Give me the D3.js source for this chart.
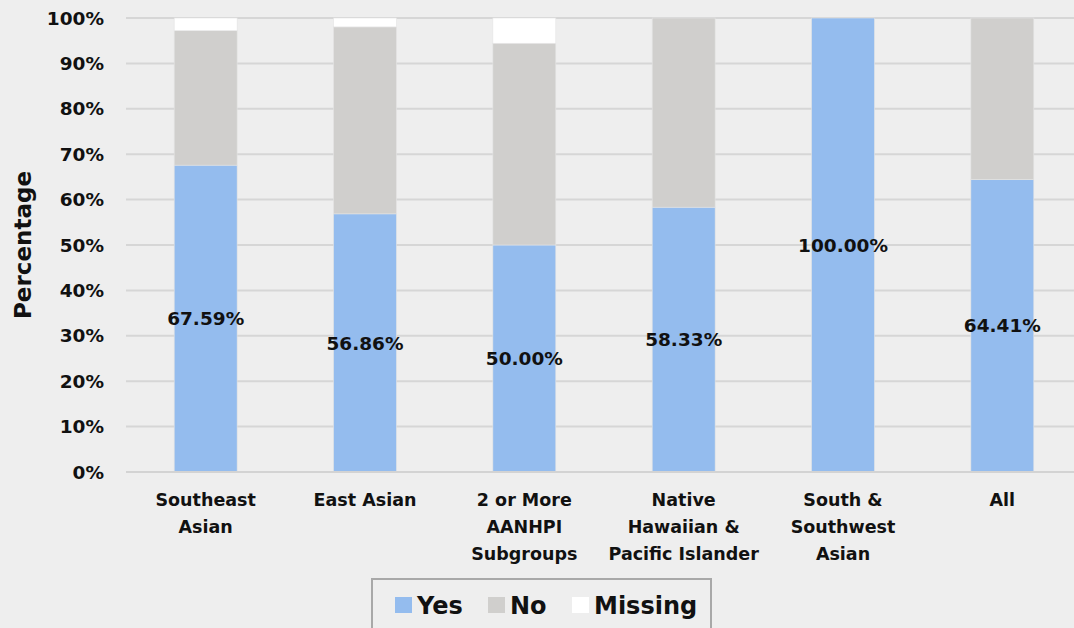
<!DOCTYPE html>
<html><head><meta charset="utf-8">
<script src="https://cdn.jsdelivr.net/npm/d3@7"></script>
<style>html,body{margin:0;padding:0;background:#eeeeee;}svg{display:block;}</style>
</head><body>
<svg id="c" width="1074" height="628"></svg>
<script>
const categories = ["Southeast Asian", "East Asian", "2 or More AANHPI Subgroups", "Native Hawaiian & Pacific Islander", "South & Southwest Asian", "All"];
const categoryLines = [["Southeast","Asian"],["East Asian"],["2 or More","AANHPI","Subgroups"],["Native","Hawaiian &","Pacific Islander"],["South &","Southwest","Asian"],["All"]];
const yesValues = [67.59, 56.86, 50.00, 58.33, 100.00, 64.41];
const noValues = [29.63, 41.18, 44.44, 41.67, 0, 35.59];
const missingValues = [2.78, 1.96, 5.56, 0, 0, 0];
const seriesNames = ["Yes", "No", "Missing"];
const seriesColors = ["#94bcee", "#d0cfcd", "#ffffff"];
const yTicks = [0,10,20,30,40,50,60,70,80,90,100];

const svg = d3.select("#c");
const FONT = "DejaVu Sans, sans-serif";
const x = d3.scaleBand().domain(categories).range([126, 1082]).paddingInner(0.605).paddingOuter(0.3025);
const y = d3.scaleLinear().domain([0, 100]).range([472, 18]);

// gridlines
svg.append("g").selectAll("line").data(yTicks).join("line")
  .attr("x1", 126).attr("x2", 1074)
  .attr("y1", d => y(d)).attr("y2", d => y(d))
  .attr("stroke", "#d6d6d6").attr("stroke-width", 2);

// y tick labels
svg.append("g").selectAll("text").data(yTicks).join("text")
  .attr("x", 104).attr("y", d => y(d)).attr("dy", "0.36em")
  .attr("text-anchor", "end")
  .attr("font-family", FONT).attr("font-weight", "bold").attr("font-size", 18.5)
  .attr("fill", "#111").text(d => d + "%");

// y title
svg.append("text")
  .attr("transform", "translate(31,245) rotate(-90)")
  .attr("text-anchor", "middle")
  .attr("font-family", FONT).attr("font-weight", "bold").attr("font-size", 23)
  .attr("fill", "#111").text("Percentage");

// stacked bars
const table = categories.map((c, i) => ({cat: c, Yes: yesValues[i], No: noValues[i], Missing: missingValues[i]}));
const stacked = d3.stack().keys(seriesNames)(table);
svg.append("g").selectAll("g").data(stacked).join("g")
  .attr("fill", (d, i) => seriesColors[i])
  .selectAll("rect").data(d => d).join("rect")
  .attr("x", d => x(d.data.cat)).attr("width", x.bandwidth())
  .attr("y", d => y(d[1])).attr("height", d => y(d[0]) - y(d[1]))
  .attr("stroke", "#e4e4e4").attr("stroke-width", 0.6);

// x axis line
svg.append("line").attr("x1", 126).attr("x2", 1074).attr("y1", y(0)).attr("y2", y(0))
  .attr("stroke", "#d3d3d3").attr("stroke-width", 2);

// data labels
svg.append("g").selectAll("text").data(table).join("text")
  .attr("x", d => x(d.cat) + x.bandwidth() / 2)
  .attr("y", d => y(d.Yes / 2)).attr("dy", "0.36em")
  .attr("text-anchor", "middle")
  .attr("font-family", FONT).attr("font-weight", "bold").attr("font-size", 18.5)
  .attr("fill", "#111").text(d => d.Yes.toFixed(2) + "%");

// category labels
const cl = svg.append("g").selectAll("text").data(categories).join("text")
  .attr("x", d => x(d) + x.bandwidth() / 2).attr("y", 506)
  .attr("text-anchor", "middle")
  .attr("font-family", FONT).attr("font-weight", "bold").attr("font-size", 17.5)
  .attr("fill", "#111");
cl.selectAll("tspan").data((d, i) => categoryLines[i]).join("tspan")
  .attr("x", function() { return this.parentNode.getAttribute("x"); })
  .attr("dy", (d, i) => i === 0 ? 0 : 27).text(d => d);

// legend
const lg = svg.append("g");
lg.append("rect").attr("x", 372).attr("y", 579).attr("width", 339).attr("height", 70)
  .attr("fill", "#eeeeee").attr("stroke", "#a8a8a8").attr("stroke-width", 2);
const legX = [395, 488, 572];
const items = lg.selectAll("g").data(seriesNames).join("g");
items.append("rect").attr("x", (d, i) => legX[i]).attr("y", 597).attr("width", 17).attr("height", 16)
  .attr("fill", (d, i) => seriesColors[i]);
items.append("text").attr("x", (d, i) => legX[i] + 22).attr("y", 614)
  .attr("font-family", FONT).attr("font-weight", "bold").attr("font-size", 24)
  .attr("fill", "#111").text(d => d);
</script>
</body></html>
